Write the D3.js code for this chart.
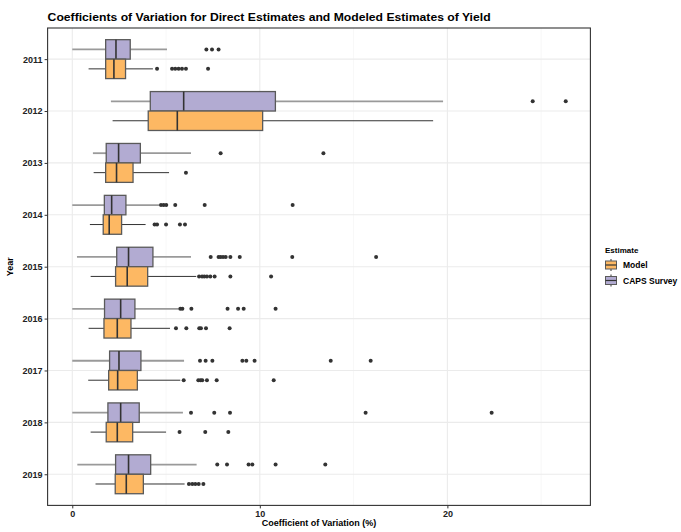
<!DOCTYPE html>
<html><head><meta charset="utf-8">
<script src="https://cdn.jsdelivr.net/npm/d3@7"></script>
<style>body{margin:0;background:#fff;} svg{display:block;font-family:"Liberation Sans",Arial,sans-serif;}</style>
</head><body><svg id="c" width="681" height="532"></svg>
<script>
const years = ["2011","2012","2013","2014","2015","2016","2017","2018","2019"];
const seriesNames = ["Model","CAPS Survey"];
const xTicks = [0,10,20];

// CAPS Survey (direct estimates)
const capsLow  = [0.00, 2.06, 1.10, 0.00, 0.25, 0.00, 0.00, 0.00, 0.27];
const capsQ1   = [1.78, 4.16, 1.81, 1.71, 2.37, 1.72, 1.99, 1.90, 2.31];
const capsMed  = [2.33, 5.94, 2.47, 2.10, 3.00, 2.58, 2.49, 2.58, 3.00];
const capsQ3   = [3.09, 10.83, 3.63, 2.86, 4.30, 3.34, 3.66, 3.57, 4.18];
const capsHigh = [5.05, 19.77, 6.33, 4.66, 6.33, 5.67, 5.96, 5.90, 6.63];
const capsOut  = [
  [7.15, 7.45, 7.80],
  [24.55, 26.31],
  [7.91, 13.39],
  [4.73, 4.87, 5.01, 5.49, 7.06, 11.75],
  [7.38, 7.80, 7.91, 8.04, 8.18, 8.43, 8.93, 11.73, 16.20],
  [5.76, 5.87, 6.35, 8.28, 8.84, 9.14, 10.84],
  [6.81, 7.11, 7.47, 9.07, 9.28, 9.72, 13.78, 15.91],
  [6.33, 7.57, 8.41, 15.64, 22.36],
  [7.73, 8.25, 9.40, 9.60, 10.84, 13.49]
];

// Model (modeled estimates)
const modelLow  = [0.87, 2.15, 1.14, 0.94, 0.98, 0.87, 0.85, 0.98, 1.24];
const modelQ1   = [1.78, 4.05, 1.78, 1.65, 2.31, 1.69, 1.94, 1.81, 2.29];
const modelMed  = [2.22, 5.60, 2.36, 1.97, 2.93, 2.40, 2.42, 2.40, 2.88];
const modelQ3   = [2.84, 10.15, 3.24, 2.63, 4.02, 3.13, 3.47, 3.22, 3.79];
const modelHigh = [4.30, 19.24, 5.16, 3.91, 6.61, 5.21, 5.76, 5.00, 5.99];
const modelOut  = [
  [4.52, 5.32, 5.49, 5.67, 5.85, 6.06, 7.24],
  [],
  [6.06],
  [4.39, 4.52, 5.00, 5.74, 6.01],
  [6.76, 6.92, 7.04, 7.18, 7.36, 7.59, 8.43, 10.60],
  [5.53, 6.08, 6.77, 6.86, 7.13, 8.39],
  [5.94, 6.72, 6.84, 6.93, 7.18, 7.70, 10.74],
  [5.72, 7.09, 8.32],
  [6.22, 6.40, 6.56, 6.74, 6.99]
];

const colors = {"Model":"#fdb863","CAPS Survey":"#b2abd2"};

function build(name, low, q1, med, q3, high, out){
  return years.map((y,i)=>({year:y, series:name, low:low[i], q1:q1[i], med:med[i], q3:q3[i], high:high[i], out:out[i]}));
}
const data = build("CAPS Survey", capsLow, capsQ1, capsMed, capsQ3, capsHigh, capsOut)
  .concat(build("Model", modelLow, modelQ1, modelMed, modelQ3, modelHigh, modelOut));

const svg = d3.select("#c");
const P = {l:47.6, r:590.4, t:28, b:505.4};

let allVals = [];
data.forEach(d=>{allVals.push(d.low,d.high,...d.out);});
let mn = d3.min(allVals), mx = d3.max(allVals), ex = (mx-mn)*0.05;
const x = d3.scaleLinear().domain([mn-ex, mx+ex]).range([P.l, P.r]);
const y = d3.scalePoint().domain(years).range([P.t, P.b]).padding(0.6);
const step = y.step();
const bw = step*0.375;
const off = {"CAPS Survey": -bw/2, "Model": bw/2};

// grid
const g = svg.append("g");
const minor = [5,15,25];
g.selectAll(".mn").data(minor).enter().append("line")
  .attr("x1",d=>x(d)).attr("x2",d=>x(d)).attr("y1",P.t).attr("y2",P.b)
  .attr("stroke","#f2f2f2").attr("stroke-width",0.6);
g.selectAll(".mj").data(xTicks).enter().append("line")
  .attr("x1",d=>x(d)).attr("x2",d=>x(d)).attr("y1",P.t).attr("y2",P.b)
  .attr("stroke","#ebebeb").attr("stroke-width",1.1);
g.selectAll(".hy").data(years).enter().append("line")
  .attr("x1",P.l).attr("x2",P.r).attr("y1",d=>y(d)).attr("y2",d=>y(d))
  .attr("stroke","#ebebeb").attr("stroke-width",1.1);

// boxes
const bx = svg.append("g");
data.forEach(d=>{
  const cy = y(d.year)+off[d.series];
  const isCaps = d.series==="CAPS Survey";
  bx.append("line").attr("x1",x(d.low)).attr("x2",x(d.q1)).attr("y1",cy).attr("y2",cy)
    .attr("stroke", isCaps?"#9a9a9a":"#333").attr("stroke-width", isCaps?1.8:1);
  bx.append("line").attr("x1",x(d.q3)).attr("x2",x(d.high)).attr("y1",cy).attr("y2",cy)
    .attr("stroke", isCaps?"#9a9a9a":"#333").attr("stroke-width", isCaps?1.8:1);
  bx.append("rect").attr("x",x(d.q1)).attr("y",cy-bw/2).attr("width",x(d.q3)-x(d.q1)).attr("height",bw)
    .attr("fill",colors[d.series]).attr("stroke","#5a5a5a").attr("stroke-width",1.3);
  bx.append("line").attr("x1",x(d.med)).attr("x2",x(d.med)).attr("y1",cy-bw/2).attr("y2",cy+bw/2)
    .attr("stroke","#333").attr("stroke-width",1.6);
  bx.selectAll(null).data(d.out).enter().append("circle")
    .attr("cx",v=>x(v)).attr("cy",cy).attr("r",2).attr("fill","#333");
});

// panel border
svg.append("rect").attr("x",P.l).attr("y",P.t).attr("width",P.r-P.l).attr("height",P.b-P.t)
  .attr("fill","none").attr("stroke","#333").attr("stroke-width",1.1);

// axes
const xa = svg.append("g").attr("transform",`translate(0,${P.b})`)
  .call(d3.axisBottom(x).tickValues(xTicks).tickSize(3).tickPadding(2).tickFormat(d3.format("d")));
const ya = svg.append("g").attr("transform",`translate(${P.l},0)`)
  .call(d3.axisLeft(y).tickSize(3).tickPadding(2));
[xa,ya].forEach(a=>{
  a.select(".domain").remove();
  a.selectAll(".tick line").attr("stroke","#333").attr("stroke-width",1);
  a.selectAll(".tick text").attr("fill","#222").attr("font-size","9px").attr("font-weight","bold")
    .attr("font-family","'Liberation Sans',Arial,sans-serif");
});

// titles
const title = svg.append("text").attr("x",P.l).attr("y",21).attr("font-size","11.5px").attr("font-weight","bold")
  .attr("fill","#000").text("Coefficients of Variation for Direct Estimates and Modeled Estimates of Yield");
title.attr("textLength",443).attr("lengthAdjust","spacingAndGlyphs");
svg.append("text").attr("x",(P.l+P.r)/2).attr("y",526).attr("text-anchor","middle")
  .attr("font-size","9px").attr("font-weight","bold").attr("fill","#000").text("Coefficient of Variation (%)");
svg.append("text").attr("transform",`translate(13,${(P.t+P.b)/2}) rotate(-90)`).attr("text-anchor","middle")
  .attr("font-size","9px").attr("font-weight","bold").attr("fill","#000").text("Year");

// legend
const lg = svg.append("g").attr("transform","translate(605,0)");
lg.append("text").attr("x",0).attr("y",253).attr("font-size","8px").attr("font-weight","bold").text("Estimate");
seriesNames.forEach((s,i)=>{
  const cy = 265 + i*15.5;
  const kx = 6;
  lg.append("line").attr("x1",kx).attr("x2",kx).attr("y1",cy-6).attr("y2",cy+6).attr("stroke","#333").attr("stroke-width",1);
  lg.append("rect").attr("x",kx-5.5).attr("y",cy-4).attr("width",11).attr("height",8)
    .attr("fill",colors[s]).attr("stroke","#5a5a5a").attr("stroke-width",1);
  lg.append("line").attr("x1",kx-5.5).attr("x2",kx+5.5).attr("y1",cy).attr("y2",cy).attr("stroke","#333").attr("stroke-width",1.2);
  lg.append("text").attr("x",18).attr("y",cy+3).attr("font-size","8.5px").attr("font-weight","bold").text(s);
});
</script></body></html>
